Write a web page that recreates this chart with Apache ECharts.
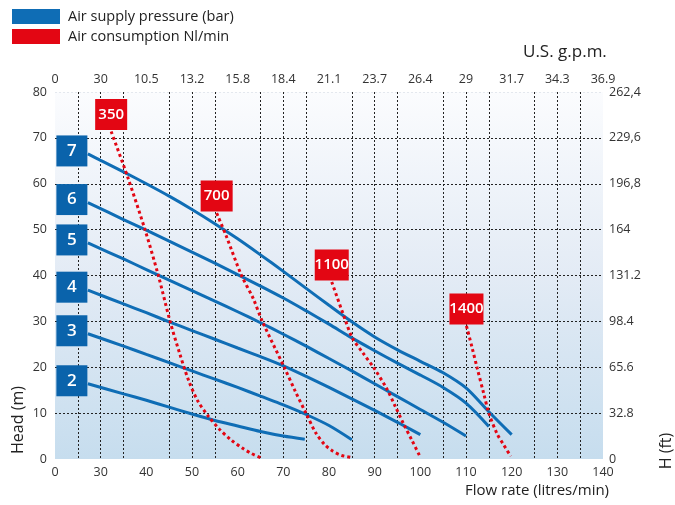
<!DOCTYPE html>
<html lang="en">
<head>
  <meta charset="UTF-8">
  <title>Pump curves</title>
  <script src="https://cdn.jsdelivr.net/npm/echarts@6/dist/echarts.min.js"></script>
</head>
<body style="margin:0;background:#fff;">
<div id="main" style="width: 675px;height:505px;"></div>
<script type="text/javascript">

// flow axis is broken: first segment 0..30 is drawn as 20..30, labelled "0"
const flowLabels = ['0', '30', '40', '50', '60', '70', '80', '90', '100', '110', '120', '130', '140'];
const gpmLabels = ['0', '30', '10.5', '13.2', '15.8', '18.4', '21.1', '23.7', '26.4', '29', '31.7', '34.3', '36.9'];
const headTicks = [0, 10, 20, 30, 40, 50, 60, 70, 80];
const ftLabels = ['0', '32.8', '65.6', '98.4', '131.2', '164', '196,8', '229,6', '262,4'];

// air supply pressure curves (bar): [flow, head]
const bar7 = [[27.2, 66.5], [30, 65.1], [35, 62.6], [40, 60], [45, 57.3], [50, 54.4], [55, 51.3], [60, 48], [65, 44.5], [70, 40.9], [75, 37.2], [80, 33.5], [85, 29.9], [90, 26.6], [95, 23.8], [100, 21.3], [105, 18.8], [110, 15.5], [115, 10.3], [120, 5.3]];
const bar6 = [[27.2, 55.9], [35, 52.2], [40, 49.9], [45, 47.5], [50, 45.1], [55, 42.7], [60, 40.2], [65, 37.7], [70, 35.1], [75, 32.3], [80, 29.4], [85, 26.4], [90, 23.6], [95, 20.9], [100, 18.3], [105, 15.6], [110, 12.2], [115, 7.1]];
const bar5 = [[27.2, 47.1], [35, 43.6], [40, 41.3], [45, 39], [50, 36.7], [55, 34.4], [60, 32.1], [65, 29.7], [70, 27.2], [75, 24.6], [80, 21.9], [85, 19.2], [90, 16.4], [95, 13.6], [100, 10.8], [105, 8], [110, 5]];
const bar4 = [[27.2, 36.8], [35, 33.8], [40, 31.9], [45, 29.9], [50, 28], [55, 26.1], [60, 24.2], [65, 22.3], [70, 20.3], [75, 18], [80, 15.6], [85, 13.1], [90, 10.6], [95, 8], [100, 5.3]];
const bar3 = [[27.2, 27.3], [35, 24.6], [40, 22.8], [45, 21], [50, 19.2], [55, 17.4], [60, 15.6], [65, 13.7], [70, 11.8], [75, 9.7], [80, 7.3], [85, 4.2]];
const bar2 = [[27.2, 16.4], [35, 14.2], [40, 12.8], [45, 11.3], [50, 9.8], [55, 8.4], [60, 7.2], [65, 6], [70, 5], [74.7, 4.3]];

// air consumption curves (Nl/min)
const air350 = [[32.3, 71.4], [35.9, 61.5], [39.7, 50], [42.6, 40.1], [45.2, 30], [47.3, 23], [49.3, 17], [51.3, 12.6], [53.6, 9.3], [56, 6.5], [58.5, 4.2], [61, 2.4], [63, 1.2], [65, 0.3]];
const air700 = [[55.4, 53.6], [57.5, 48.6], [60.8, 40.1], [63.4, 35], [65.4, 30], [70.2, 20], [72.5, 15], [75, 9.9], [77.1, 5.7], [79, 3.2], [80.7, 1.8], [82.7, 0.8], [85, 0.3]];
const air1100 = [[80.6, 38.6], [83.6, 30.2], [85.1, 26.4], [87.5, 23], [89.8, 19.9], [92.6, 15.4], [94.5, 11.5], [96.3, 7.7], [98.2, 4], [100, 0.4]];
const air1400 = [[110.1, 29], [111.3, 24.4], [112.4, 20], [113.9, 14.2], [115, 10], [116.8, 5.5], [118.3, 3], [119.8, 0.6]];

const pressureCurves = [['7', bar7], ['6', bar6], ['5', bar5], ['4', bar4], ['3', bar3], ['2', bar2]];
const airCurves = [['350', air350], ['700', air700], ['1100', air1100], ['1400', air1400]];

const BLUE = '#0f6db5';
const RED = '#e30613';
const FONT = 'Open Sans';
const PRESSURE = 'Air supply pressure (bar)';
const AIR = 'Air consumption Nl/min';

const series = [];
pressureCurves.forEach(function (c) {
  series.push({
    name: PRESSURE,
    type: 'line',
    smooth: 0.3,
    symbol: 'none',
    data: c[1],
    itemStyle: {color: BLUE},
    lineStyle: {color: BLUE, width: 3},
    markPoint: {
      symbol: 'rect',
      symbolSize: [31, 31],
      symbolOffset: [-16, -3],
      itemStyle: {color: '#0a63ab'},
      label: {show: true, formatter: c[0], color: '#fff', fontSize: 17, fontFamily: FONT, fontWeight: 600},
      data: [{coord: c[1][0]}]
    }
  });
});
airCurves.forEach(function (c) {
  series.push({
    name: AIR,
    type: 'line',
    smooth: 0.3,
    symbol: 'none',
    z: 3,
    data: c[1],
    itemStyle: {color: RED},
    lineStyle: {color: RED, width: 3, type: [3, 3]},
    markPoint: {
      symbol: 'rect',
      symbolSize: [c[0].length > 3 ? 34 : 32, 31],
      symbolOffset: [0, -17],
      itemStyle: {color: RED},
      label: {show: true, formatter: c[0], color: '#fff', fontSize: 15, fontFamily: FONT, fontWeight: 600},
      data: [{coord: c[1][0]}]
    }
  });
});

const myChart = echarts.init(document.getElementById('main'));
const axisText = {color: '#333', fontSize: 12.5, fontFamily: FONT};
const option = {
  animation: false,
  textStyle: {fontFamily: FONT},
  legend: {
    data: [PRESSURE, AIR],
    orient: 'vertical',
    left: 7,
    top: 4,
    icon: 'rect',
    itemWidth: 48,
    itemHeight: 15,
    itemGap: 5,
    selectedMode: false,
    textStyle: {color: '#222', fontSize: 14.5, fontFamily: FONT, padding: [0, 0, 0, 3]}
  },
  grid: {
    left: 55, right: 72, top: 92, bottom: 46,
    show: true,
    borderWidth: 0,
    backgroundColor: {
      type: 'linear', x: 0, y: 0, x2: 0, y2: 1,
      colorStops: [{offset: 0, color: '#fbfcfe'}, {offset: 0.5, color: '#e3ebf5'}, {offset: 1, color: '#c6ddee'}]
    }
  },
  xAxis: [
    {
      type: 'value', position: 'bottom', min: 20, max: 140, interval: 10,
      axisLine: {show: false}, axisTick: {show: false},
      axisLabel: Object.assign({margin: 7, formatter: function (v) { return flowLabels[(v - 20) / 10]; }}, axisText),
      splitLine: {show: true, lineStyle: {color: ['rgba(0,0,0,0)', '#222'], type: [2, 2], width: 1}},
      minorTick: {show: false, splitNumber: 2},
      minorSplitLine: {show: true, lineStyle: {color: '#222', type: [2, 2], width: 1}}
    },
    {
      type: 'value', position: 'top', min: 20, max: 140, interval: 10,
      axisLine: {show: false}, axisTick: {show: false}, splitLine: {show: false},
      axisLabel: Object.assign({margin: 6, formatter: function (v) { return gpmLabels[(v - 20) / 10]; }}, axisText)
    }
  ],
  yAxis: [
    {
      type: 'value', min: 0, max: 80, interval: 10,
      axisLine: {show: false}, axisTick: {show: false},
      axisLabel: Object.assign({margin: 8, formatter: function (v) { return String(headTicks[v / 10]); }}, axisText),
      splitLine: {show: true, lineStyle: {color: ['rgba(0,0,0,0)', '#222', '#222', '#222', '#222', '#222', '#222', '#222', '#e4e8ee'], type: [2, 2], width: 1}}
    },
    {
      type: 'value', min: 0, max: 80, interval: 10, position: 'right',
      axisLine: {show: false}, axisTick: {show: false}, splitLine: {show: false},
      axisLabel: Object.assign({margin: 6, formatter: function (v) { return ftLabels[v / 10]; }}, axisText)
    }
  ],
  graphic: [
    {type: 'text', left: 523, top: 44, style: {text: 'U.S. g.p.m.', fill: '#222', font: '17px "Open Sans"'}},
    {type: 'text', left: 465, top: 483, style: {text: 'Flow rate (litres/min)', fill: '#222', font: '15px "Open Sans"'}},
    {type: 'text', x: 26, y: 420, rotation: Math.PI / 2, style: {text: 'Head (m)', fill: '#222', font: '16px "Open Sans"', align: 'center', verticalAlign: 'bottom'}},
    {type: 'text', x: 674, y: 451, rotation: Math.PI / 2, style: {text: 'H (ft)', fill: '#222', font: '16px "Open Sans"', align: 'center', verticalAlign: 'bottom'}}
  ],
  series: series
};
myChart.setOption(option);
</script>
</body>
</html>
